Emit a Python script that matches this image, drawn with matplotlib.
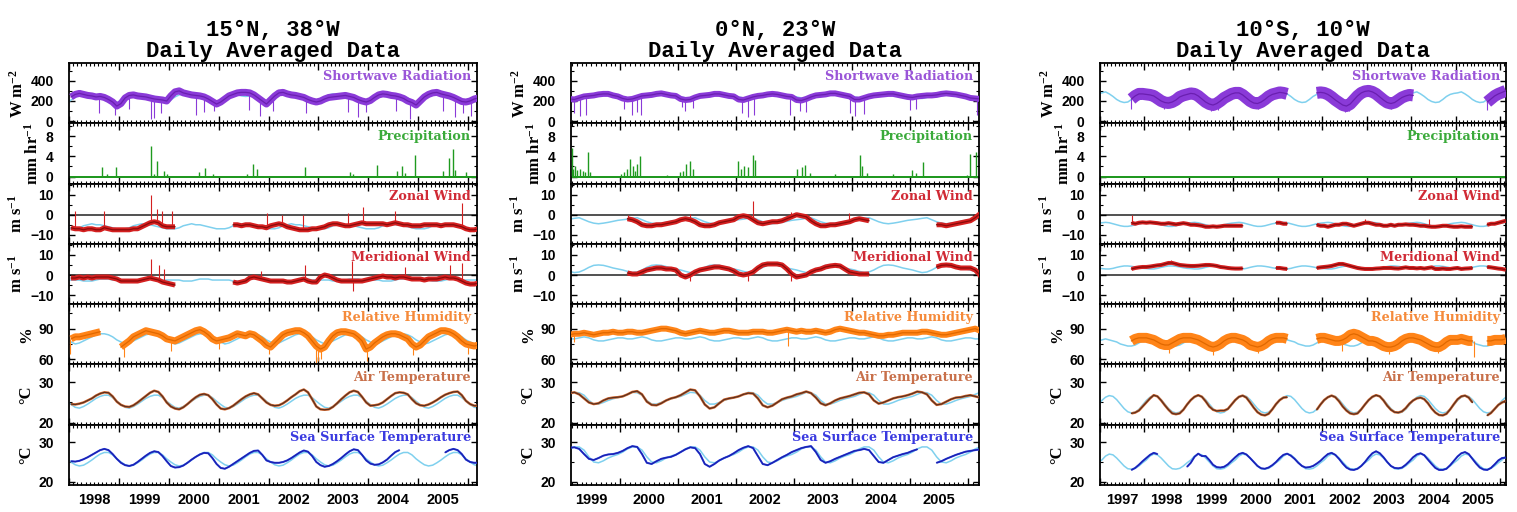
import numpy as np
import matplotlib
matplotlib.use("Agg")
import matplotlib.pyplot as plt

nan = np.nan

# =============================================================================
# Values (monthly means, NaN = no buoy data)
# cyan curves = monthly climatology, repeated every year
# =============================================================================

# ---------------- 15N, 38W : Jan 1998 .. Mar 2006 ----------------
a_title = "15°N, 38°W\nDaily Averaged Data"
a_start = 1998.0
a_xlim = (1998.0, 2006.18)
a_years = [1998, 1999, 2000, 2001, 2002, 2003, 2004, 2005]

sw_a = [240, 265, 275, 265, 255, 250, 240, 245, 235, 215, 190, 150,
        175, 230, 255, 260, 250, 245, 240, 230, 220, 215, 210, 200,
        250, 290, 300, 280, 270, 260, 255, 250, 240, 220, 195, 170,
        190, 220, 250, 265, 280, 285, 285, 280, 260, 230, 200, 170,
        210, 250, 280, 285, 270, 260, 255, 245, 235, 215, 200, 190,
        200, 220, 235, 240, 245, 250, 255, 245, 235, 215, 200, 190,
        205, 235, 260, 270, 265, 255, 250, 240, 225, 200, 185, 160,
        200, 240, 265, 280, 285, 270, 260, 250, 235, 215, 195, 190,
        200, 220, 230]
u_a = [-6.5, -7.0, -7.0, -7.5, -7.0, -7.0, -7.5, -7.5, -6.5, -7.0, -7.5, -7.5,
       -7.5, -7.5, -7.5, -7.0, -7.0, -6.0, -5.0, -4.0, -3.5, -4.0, -5.5, -6.0,
       -6.0, -6.0, nan, nan, nan, nan, nan, nan, nan, nan, nan, nan,
       nan, nan, nan, -5.0, -5.0, -5.5, -5.0, -5.0, -5.5, -6.0, -6.0, -6.5,
       -5.5, -5.0, -4.5, -5.0, -6.0, -6.5, -7.0, -7.5, -7.5, -7.5, -7.0, -7.0,
       -6.5, -6.0, -5.0, -4.5, -4.5, -5.0, -5.5, -5.5, -5.0, -4.5, -4.0, -4.5,
       -4.5, -4.5, -4.5, -4.5, -5.0, -4.5, -4.0, -4.5, -5.0, -5.0, -5.5, -5.5,
       -5.5, -5.0, -5.0, -5.0, -5.0, -5.5, -5.0, -5.0, -5.0, -5.5, -6.0, -7.0,
       -7.5, -7.5, -7.0]
v_a = [-1.5, -1.5, -1.0, -1.5, -1.0, -1.5, -1.0, -1.0, -1.0, -1.0, -1.5, -2.0,
       -3.0, -3.0, -3.0, -3.0, -3.0, -2.5, -2.0, -1.5, -2.0, -2.5, -3.5, -4.0,
       -4.5, -5.0, nan, nan, nan, nan, nan, nan, nan, nan, nan, nan,
       nan, nan, nan, -3.5, -4.0, -3.5, -3.0, -1.5, -1.0, -1.5, -2.0, -2.5,
       -3.0, -3.0, -3.0, -3.0, -3.5, -3.5, -3.0, -2.5, -2.0, -3.0, -3.5, -3.5,
       -1.0, 0.0, -0.5, -1.5, -2.5, -3.0, -3.0, -3.0, -3.0, -3.0, -3.0, -2.5,
       -2.0, -1.5, -1.0, -0.5, -1.0, -1.0, -1.5, -1.0, -1.0, -1.5, -2.0, -2.0,
       -2.0, -2.5, -2.0, -2.0, -2.0, -1.5, -1.0, -1.5, -1.5, -2.0, -3.0, -4.0,
       -4.5, -4.5, -4.0]
rh_a = [80, 82, 82, 83, 84, 85, 86, 87, nan, nan, nan, nan,
        72, 75, 78, 82, 84, 86, 88, 87, 86, 85, 83, 80,
        79, 78, 80, 82, 84, 86, 88, 89, 87, 84, 80, 78,
        79, 80, 81, 83, 85, 84, 83, 85, 84, 81, 78, 74,
        72, 76, 80, 84, 86, 87, 88, 88, 86, 83, 78, 73,
        70, 72, 78, 83, 86, 87, 87, 86, 85, 82, 78, 70,
        72, 76, 79, 82, 84, 85, 85, 84, 82, 80, 75, 72,
        74, 78, 82, 84, 86, 88, 88, 87, 85, 82, 78, 75,
        74, 73, 74]
at_a = [24.6, 24.5, 24.7, 25.0, 25.5, 26.0, 26.7, 27.2, 27.5, 27.4, 26.5, 25.2,
        24.4, 24.0, 23.9, 24.3, 25.0, 25.8, 26.6, 27.4, 27.9, 27.6, 26.5, 25.0,
        24.0, 23.5, 23.3, 23.8, 24.6, 25.5, 26.3, 26.9, 27.1, 26.8, 25.8, 24.5,
        23.5, 23.3, 23.6, 24.2, 25.0, 25.8, 26.5, 27.0, 27.3, 27.0, 26.0, 25.0,
        24.4, 24.2, 24.3, 24.8, 25.5, 26.3, 27.0, 27.8, 28.2, 27.5, 25.8, 24.0,
        23.3, 23.2, 23.3, 23.9, 24.8, 25.8, 26.7, 27.5, 27.9, 27.6, 26.4, 25.0,
        24.2, 24.3, 24.5, 25.0, 25.8, 26.6, 27.3, 27.5, 27.4, 27.0, 25.8, 24.8,
        24.3, 24.2, 24.5, 25.0, 25.6, 26.3, 26.9, 27.3, 27.6, 27.7, 26.8, 25.4,
        24.6, 24.2, 24.2]
sst_a = [25.2, 25.1, 25.3, 25.7, 26.2, 26.8, 27.4, 28.0, 28.3, 28.0, 27.0, 25.8,
         24.8, 24.2, 24.0, 24.3, 25.0, 25.8, 26.6, 27.3, 27.7, 27.5, 26.5, 25.2,
         24.0, 23.6, 23.7, 24.1, 24.8, 25.6, 26.3, 26.9, 27.3, 27.2, 26.0, 24.5,
         23.5, 23.3, 23.8, 24.5, 25.2, 25.9, 26.6, 27.3, 27.8, 27.9, 26.8, 25.4,
         25.0, 24.8, 24.8, 25.0, 25.4, 26.0, 26.7, 27.4, 27.9, 27.6, 26.5, 25.0,
         24.2, 23.8, 24.0, 24.5, 25.2, 26.0, 26.9, 27.7, 28.2, 28.0, 26.8, 25.4,
         24.6, 24.3, 24.4, 24.9, 25.6, 26.6, 27.5, 28.0, nan, nan, nan, nan,
         nan, nan, nan, nan, nan, nan, 27.4, 28.0, 28.3, 28.0, 27.0, 25.6,
         25.0, 24.8, 24.8]
pr_a_t = [1998.67, 1998.76, 1998.94, 1999.64, 1999.70, 1999.76, 1999.90, 1999.97,
          2000.60, 2000.72, 2000.88, 2001.57, 2001.69, 2001.76, 2002.74, 2003.64,
          2003.70, 2004.17, 2004.57, 2004.67, 2004.74, 2004.94, 2005.49, 2005.61,
          2005.69, 2005.74, 2005.96]
pr_a_v = [1.8, 0.5, 1.8, 6.0, 0.5, 3.0, 1.2, 0.5, 1.0, 1.7, 0.6, 0.6, 2.4, 1.5,
          1.8, 1.0, 0.6, 2.3, 1.2, 2.0, 0.8, 4.3, 1.2, 3.7, 5.5, 1.3, 1.0]

clim_a = {
    "sw": [210, 240, 260, 270, 265, 250, 245, 250, 245, 230, 200, 180],
    "u": [-7.0, -7.0, -6.5, -5.5, -5.0, -4.5, -5.0, -5.0, -5.5, -6.0, -6.5, -7.0],
    "v": [-2.5, -2.5, -2.5, -3.0, -3.0, -3.0, -2.5, -2.0, -2.0, -2.0, -2.5, -2.5],
    "rh": [77, 75, 76, 78, 80, 82, 84, 85, 85, 84, 82, 79],
    "at": [24.5, 23.8, 23.6, 24.0, 24.6, 25.3, 26.0, 26.5, 26.8, 26.8, 26.2, 25.3],
    "sst": [25.0, 24.3, 24.0, 24.2, 24.8, 25.5, 26.3, 27.0, 27.4, 27.4, 26.8, 25.8],
}

# ---------------- 0N, 23W : Feb 1999 .. Mar 2006 ----------------
b_title = "0°N, 23°W\nDaily Averaged Data"
b_start = 1999.0 + 1 / 12
b_xlim = (1999.15, 2006.19)
b_years = [1999, 2000, 2001, 2002, 2003, 2004, 2005]

sw_b = [220, 215, 230, 245, 250, 255, 265, 270, 270, 255, 245,
        225, 215, 220, 235, 250, 255, 260, 270, 275, 265, 255, 250,
        220, 210, 215, 235, 250, 255, 260, 270, 270, 260, 250, 245,
        215, 210, 225, 240, 250, 255, 265, 270, 265, 255, 245, 240,
        210, 205, 220, 240, 255, 260, 265, 275, 275, 265, 255, 245,
        215, 215, 230, 245, 255, 260, 265, 270, 270, 260, 250, 240,
        235, 245, 250, 255, 255, 260, 270, 275, 270, 265, 255, 245,
        230, 225, 220]
u_b = [nan, nan, nan, nan, nan, nan, nan, nan, nan, nan, nan,
       nan, -2.0, -2.5, -3.5, -5.0, -5.5, -5.5, -5.0, -5.0, -4.5, -4.0, -3.5,
       -2.5, -2.0, -2.5, -3.5, -5.0, -5.5, -5.5, -5.0, -4.0, -3.5, -3.0, -2.5,
       -1.0, -0.5, -1.0, -2.5, -4.0, -4.5, -4.0, -3.5, -3.5, -3.0, -2.0, -1.0,
       0.0, -0.5, -1.0, -3.0, -4.5, -5.5, -5.5, -5.0, -5.0, -4.5, -4.0, -3.5,
       -2.5, -2.0, -2.5, -3.0, nan, nan, nan, nan, nan, nan, nan, nan,
       nan, nan, nan, nan, nan, -5.0, -5.0, -5.5, -5.0, -4.5, -4.0, -3.5,
       -3.0, -1.5, 0.5]
v_b = [nan, nan, nan, nan, nan, nan, nan, nan, nan, nan, nan,
       nan, 1.0, 0.5, 0.5, 1.5, 2.5, 3.0, 3.5, 3.5, 3.0, 3.0, 2.5,
       0.0, -1.0, 0.0, 1.5, 2.5, 3.0, 3.5, 4.0, 4.0, 3.5, 3.0, 2.0,
       0.5, 0.0, 0.5, 1.5, 3.5, 5.0, 5.5, 5.5, 5.5, 5.0, 3.0, 0.5,
       -1.0, -0.5, 0.0, 1.5, 2.5, 3.0, 4.0, 4.5, 4.8, 4.5, 3.0, 1.5,
       1.0, 0.5, 0.5, 0.5, nan, nan, nan, nan, nan, nan, nan, nan,
       nan, nan, nan, nan, nan, 4.0, 4.8, 5.0, 4.8, 4.0, 3.5, 3.5,
       3.5, 2.5, 0.0]
rh_b = [84, 85, 85, 86, 85, 84, 85, 86, 86, 87, 86,
        86, 87, 87, 86, 86, 87, 88, 89, 90, 90, 89, 88,
        86, 85, 86, 87, 88, 87, 86, 86, 87, 88, 88, 87,
        86, 86, 86, 87, 87, 87, 86, 86, 87, 88, 89, 88,
        87, 88, 87, 87, 88, 87, 86, 87, 89, 90, 89, 88,
        87, 86, 86, 85, 84, 83, 83, 84, 84, 85, 86, 86,
        86, 86, 87, 87, 86, 85, 84, 84, 85, 86, 87, 88,
        89, 90, 88]
at_b = [27.3, 27.5, 27.0, 26.0, 25.0, 24.6, 24.8, 25.5, 26.0, 26.2, 26.3,
        26.5, 27.0, 27.6, 27.8, 27.0, 25.2, 24.4, 24.3, 24.8, 25.5, 26.0, 26.3,
        26.8, 27.5, 28.2, 28.0, 26.5, 24.5, 23.5, 23.8, 24.8, 25.7, 26.0, 26.2,
        26.5, 27.0, 27.3, 27.2, 26.0, 24.3, 23.8, 24.2, 25.0, 25.8, 26.2, 26.5,
        27.0, 27.3, 27.7, 27.3, 26.2, 24.8, 24.3, 24.8, 25.5, 26.0, 26.3, 26.6,
        27.0, 27.4, 27.5, 27.0, 25.5, 24.7, 25.0, 25.5, 26.0, 26.3, 26.5, 26.8,
        27.2, 27.7, 27.5, 27.0, 25.5, 24.4, 24.6, 25.2, 25.8, 26.2, 26.3, 26.6,
        26.8, 26.5, 26.2]
sst_b = [28.6, 28.7, 28.3, 27.0, 25.8, 25.5, 26.0, 26.6, 26.9, 27.0, 27.3,
         27.8, 28.5, 29.0, 28.8, 27.0, 24.8, 24.5, 25.2, 25.8, 26.1, 26.3, 26.8,
         27.5, 28.2, 28.7, 28.5, 27.0, 24.5, 23.8, 24.5, 25.4, 26.0, 26.5, 27.2,
         28.0, 28.6, 29.0, 28.5, 26.5, 24.5, 24.2, 24.8, 25.5, 26.2, 26.8, 27.5,
         28.0, 28.5, 28.8, 29.0, 27.5, 25.5, 24.8, 25.2, 25.8, 26.3, 26.8, 27.3,
         27.8, 28.0, 28.3, 28.0, 26.5, 25.0, 24.8, 25.5, 26.2, 26.6, 27.0, 27.3,
         27.8, 28.2, nan, nan, nan, 24.8, 25.2, 25.8, 26.3, 26.8, 27.2, 27.6,
         27.8, 28.0, 28.2]
pr_b_t = [1999.16, 1999.19, 1999.22, 1999.26, 1999.31, 1999.35, 1999.40, 1999.44,
          1999.48, 2000.01, 2000.06, 2000.11, 2000.17, 2000.22, 2000.26, 2000.29,
          2000.34, 2000.80, 2001.03, 2001.09, 2001.14, 2001.20, 2001.26, 2002.04,
          2002.09, 2002.13, 2002.21, 2002.29, 2002.33, 2003.05, 2003.13, 2003.19,
          2003.28, 2003.71, 2004.14, 2004.17, 2004.25, 2004.71, 2005.03, 2005.11,
          2005.23, 2005.98, 2006.03, 2006.14]
pr_b_v = [5.6, 1.5, 2.0, 1.3, 1.5, 1.2, 1.0, 4.8, 1.0, 0.5, 1.0, 1.5, 3.5, 2.0,
          1.2, 2.5, 4.1, 0.4, 1.0, 1.2, 2.5, 3.0, 1.5, 3.0, 1.5, 2.0, 1.8, 4.3,
          3.3, 1.5, 1.8, 2.3, 0.8, 0.5, 4.2, 2.0, 0.8, 0.5, 1.3, 0.8, 2.8, 0.3,
          4.5, 4.8]

clim_b = {
    "sw": [240, 230, 225, 235, 245, 245, 250, 265, 270, 270, 255, 250],
    "u": [-2.5, -2.2, -1.8, -1.5, -2.5, -3.5, -4.2, -4.5, -4.2, -3.8, -3.3, -2.8],
    "v": [2.5, 1.8, 1.2, 1.5, 2.5, 3.8, 4.8, 5.0, 4.8, 4.2, 3.5, 3.0],
    "rh": [81, 80, 80, 81, 82, 81, 79, 78, 78, 79, 80, 81],
    "at": [26.5, 27.0, 27.5, 27.4, 26.8, 25.5, 24.6, 24.6, 25.0, 25.5, 25.9, 26.2],
    "sst": [27.5, 28.3, 28.8, 28.8, 28.0, 26.3, 25.0, 24.8, 25.3, 26.0, 26.5, 26.9],
}

# ---------------- 10S, 10W : Jan 1997 .. Feb 2006 ----------------
c_title = "10°S, 10°W\nDaily Averaged Data"
c_start = 1997.0
c_xlim = (1997.0, 2006.13)
c_years = [1997, 1998, 1999, 2000, 2001, 2002, 2003, 2004, 2005]

sw_c = [nan, nan, nan, nan, nan, nan, nan, nan, 220, 250, 270, 270,
        265, 260, 250, 225, 200, 185, 180, 190, 210, 240, 255, 265,
        275, 270, 250, 220, 190, 170, 160, 175, 200, 230, 250, 270,
        280, 280, 260, 230, 200, 180, 175, 190, 215, 245, 265, 275,
        285, 280, 270, nan, nan, nan, nan, nan, nan, nan, 280, 285,
        280, 265, 240, 210, 185, 160, 150, 170, 210, 250, 280, 295,
        300, 290, 270, 240, 210, 185, 175, 185, 210, 235, 250, 260,
        255, nan, nan, nan, nan, nan, nan, nan, nan, nan, nan, nan,
        nan, nan, nan, nan, nan, nan, nan, nan, 190, 220, 250, 270,
        285, 300]
u_c = [nan, nan, nan, nan, nan, nan, nan, nan, -4.0, -4.5, -4.0, -3.8,
       -4.0, -3.8, -4.0, -4.2, -4.5, -4.5, -4.2, -4.5, -4.8, -4.5, -4.2, -4.5,
       -5.0, -5.0, -5.2, -5.5, -6.0, -6.0, -5.8, -6.0, -5.8, -5.5, -5.5, -5.5,
       -5.5, -5.5, -5.5, nan, nan, nan, nan, nan, nan, nan, nan, -4.0,
       -4.0, -4.5, -4.5, nan, nan, nan, nan, nan, nan, nan, -5.0, -5.5,
       -5.5, -6.0, -5.5, -5.0, -5.0, -4.5, -4.5, -5.0, -5.5, -5.0, -4.5, -4.0,
       -4.0, -4.5, -5.0, -5.0, -5.5, -5.5, -5.0, -5.5, -5.0, -5.0, -4.8, -5.0,
       -5.0, -5.2, -5.5, -5.5, -5.8, -6.0, -6.0, -5.8, -5.5, -5.5, -5.8, -6.0,
       -6.0, -5.8, -6.0, -6.0, -6.0, nan, nan, nan, -5.0, -4.5, -4.5, -4.0,
       -3.5, -3.0]
v_c = [nan, nan, nan, nan, nan, nan, nan, nan, 3.0, 3.5, 3.8, 4.0,
       4.0, 4.2, 4.5, 4.8, 5.0, 5.5, 6.0, 6.0, 5.5, 5.0, 4.8, 4.6,
       4.5, 4.5, 4.6, 4.8, 5.0, 5.0, 4.8, 4.5, 4.0, 3.8, 3.5, 3.3,
       3.2, 3.2, 3.3, nan, nan, nan, nan, nan, nan, nan, nan, 3.5,
       3.5, 3.2, 3.0, nan, nan, nan, nan, nan, nan, nan, 3.5, 3.8,
       4.0, 4.2, 4.5, 5.0, 5.5, 5.5, 5.0, 4.5, 4.0, 3.5, 3.2, 3.0,
       3.0, 3.0, 3.2, 3.3, 3.5, 3.5, 3.5, 3.3, 3.2, 3.5, 3.8, 3.5,
       3.5, 3.3, 3.5, 3.2, 3.5, 3.8, 3.0, 3.0, 3.2, 3.0, 3.0, 3.3,
       3.5, 3.0, 3.2, 3.3, 3.5, nan, nan, nan, 4.0, 3.8, 3.5, 3.2,
       3.0, 2.6]
rh_c = [nan, nan, nan, nan, nan, nan, nan, nan, 78, 80, 81, 81,
        81, 80, 79, 77, 75, 74, 74, 76, 78, 80, 81, 81,
        81, 80, 79, 77, 75, 73, 72, 73, 75, 78, 80, 81,
        81, 80, 79, 77, 74, 73, 72, 73, 75, 78, 80, 81,
        81, 81, 80, nan, nan, nan, nan, nan, nan, nan, 80, 81,
        81, 80, 79, 78, 78, 79, 81, 84, 85, 84, 82, 80,
        78, 78, 77, 75, 73, 72, 72, 73, 75, 78, 80, 81,
        81, 80, 79, 77, 75, 73, 72, 72, 74, 77, 79, 79,
        79, 80, 79, 78, 78, nan, nan, nan, 78, 78, 79, 79,
        79, 80]
at_c = [nan, nan, nan, nan, nan, nan, nan, nan, 22.3, 22.5, 23.0, 24.0,
        25.0, 26.0, 26.8, 26.5, 25.5, 24.3, 23.2, 22.3, 22.1, 22.3, 23.2, 24.5,
        25.6, 26.4, 26.8, 26.4, 25.3, 24.0, 23.2, 22.9, 23.0, 23.0, 23.4, 24.5,
        25.6, 26.4, 26.7, 26.2, 25.0, 23.7, 22.6, 22.0, 21.8, 22.2, 23.3, 24.6,
        25.6, 26.2, 26.3, nan, nan, nan, nan, nan, nan, nan, 23.2, 24.5,
        25.6, 26.3, 26.7, 26.3, 25.3, 24.0, 23.0, 22.3, 22.1, 22.3, 23.3, 24.5,
        25.6, 26.4, 26.8, 26.5, 25.5, 24.2, 23.2, 22.6, 22.5, 22.8, 23.6, 24.7,
        25.5, 26.0, 26.2, 25.8, 24.8, 23.5, 22.5, 21.9, 21.8, 22.2, 23.3, 24.6,
        25.8, 26.5, 26.7, 26.2, 25.0, nan, nan, nan, 21.8, 22.4, 23.4, 24.4,
        25.0, 25.4]
sst_c = [nan, nan, nan, nan, nan, nan, nan, nan, 23.0, 23.5, 24.3, 25.2,
         26.0, 26.8, 27.3, 27.0, nan, nan, nan, nan, nan, nan, nan, 23.8,
         24.8, 26.3, 27.1, 26.5, 26.5, 25.5, 24.3, 23.7, 23.6, 23.8, 24.4, 25.3,
         26.2, 27.0, 27.3, 26.9, 26.0, 25.0, 24.0, 23.4, 23.3, 23.6, 24.2, 25.0,
         26.0, 26.8, 27.1, 26.6, 25.8, 24.8, 24.0, 23.6, 23.7, 24.0, 24.6, 25.3,
         26.2, 27.0, 27.3, 26.8, 25.8, 24.6, 23.6, 23.1, 23.0, 23.3, 24.0, 25.0,
         26.2, 27.2, 27.7, 27.2, 26.2, 25.0, 24.0, 23.5, 23.4, 23.6, 24.3, 25.2,
         26.2, 26.9, 27.2, 26.7, 25.6, 24.5, 23.5, 23.0, 23.0, 23.3, 24.2, 25.3,
         26.4, 27.2, 27.5, 27.0, 25.8, 24.6, 23.6, 23.1, 23.0, 23.5, 24.4, 25.4,
         26.0, 26.1]
pr_c_t = [1998.60, 2000.40, 2001.95, 2003.30]
pr_c_v = [0.1, 0.15, 0.1, 0.15]

clim_c = {
    "sw": [280, 290, 270, 245, 215, 195, 185, 190, 215, 245, 265, 275],
    "u": [-4.0, -3.8, -4.0, -4.5, -5.0, -5.5, -5.8, -5.8, -5.5, -5.0, -4.5, -4.2],
    "v": [3.2, 3.0, 3.0, 3.3, 3.8, 4.2, 4.5, 4.5, 4.3, 4.0, 3.6, 3.3],
    "rh": [79, 80, 79, 78, 77, 75, 74, 73, 73, 74, 76, 78],
    "at": [25.5, 26.3, 26.7, 26.5, 25.7, 24.6, 23.5, 22.7, 22.4, 22.6, 23.3, 24.4],
    "sst": [25.5, 26.5, 27.0, 26.8, 26.0, 25.0, 24.0, 23.3, 23.2, 23.4, 24.0, 24.8],
}

# daily excursions standing out of the band (time, value)
sw_a_dip_t = [1998.60, 1998.93, 1999.20, 1999.64, 1999.70, 1999.85, 2000.55, 2000.70,
              2000.90, 2001.60, 2001.83, 2002.10, 2002.75, 2003.60, 2003.80, 2003.95,
              2004.55, 2004.83, 2005.50, 2005.73, 2005.90, 2006.05]
sw_a_dip_v = [80, 60, 120, 20, 30, 80, 60, 90, 100, 110, 50, 100, 80, 90, 40, 90,
              100, 20, 100, 40, 80, 50]
sw_b_dip_t = [1999.21, 1999.30, 1999.41, 2000.06, 2000.20, 2000.29, 2000.35, 2001.06,
              2001.12, 2001.25, 2002.10, 2002.21, 2002.30, 2002.93, 2003.10, 2003.20,
              2003.97, 2004.05, 2004.20, 2005.00, 2005.11, 2006.15]
sw_b_dip_v = [80, 50, 60, 120, 60, 90, 60, 140, 100, 130, 80, 40, 60, 60, 100, 90,
              80, 50, 70, 110, 120, 60]
sw_c_dip_t = [1997.70, 1998.45, 1999.50, 1999.65, 2000.55, 2002.50, 2002.60, 2003.55, 2005.70]
sw_c_dip_v = [120, 120, 100, 110, 120, 90, 100, 120, 110]

u_a_sp_t = [1998.12, 1998.70, 1999.64, 1999.77, 1999.87, 2000.07, 2001.97, 2002.27,
            2002.70, 2003.60, 2003.90, 2004.54, 2005.87]
u_a_sp_v = [2, 2, 10, 3, 2, 2, 1, 0, 0, 1, 4, 2, 6]
v_a_sp_t = [1999.64, 1999.80, 1999.90, 2001.84, 2002.74, 2003.67, 2003.70, 2004.74,
            2005.63, 2005.87]
v_a_sp_v = [8, 5, 3, 2, 5, 7, -8, 4, 5, 6]
u_b_sp_t = [2000.14, 2001.20, 2002.29, 2002.95, 2003.95, 2006.17]
u_b_sp_v = [0, 0.5, 7, 1.5, 1, 1]
v_b_sp_t = [2001.20, 2002.20, 2002.95, 2006.17]
v_b_sp_v = [-3, -3, -3, -1]
u_c_sp_t = [1997.72, 2002.95, 2004.40]
u_c_sp_v = [0, -2, -2]
v_c_sp_t = [1998.60]
v_c_sp_v = [7.5]

rh_a_dip_t = [1998.03, 1999.10, 2000.05, 2001.00, 2002.00, 2002.95, 2003.00, 2003.05,
              2003.97, 2004.90, 2006.00]
rh_a_dip_v = [65, 62, 68, 70, 65, 55, 58, 60, 58, 64, 65]
rh_b_dip_t = [1999.20, 2002.90]
rh_b_dip_v = [77, 73]
rh_c_dip_t = [1998.55, 1999.55, 2000.55, 2002.45, 2003.50, 2004.60, 2005.40]
rh_c_dip_v = [66, 64, 66, 68, 65, 66, 62]

# =============================================================================
# panel styles
# =============================================================================
rows = ["sw", "pr", "u", "v", "rh", "at", "sst"]
panel = {
    "sw": dict(name="Shortwave Radiation", unit=r"W m$^{-2}$", ylim=(-20, 575),
               major=[0, 200, 400], minor=[100, 300, 500],
               color="#8a3ad8", core="#6a1fb0", text="#9a55d8"),
    "pr": dict(name="Precipitation", unit=r"mm hr$^{-1}$", ylim=(-1.4, 10.6),
               major=[0, 4, 8], minor=[2, 6, 10],
               color="#1f9a1f", core="#1f9a1f", text="#3aaa3a"),
    "u": dict(name="Zonal Wind", unit=r"m s$^{-1}$", ylim=(-14.5, 15.5),
              major=[-10, 0, 10], minor=[-5, 5, 15],
              color="#d42020", core="#8a0a0a", text="#d02a35"),
    "v": dict(name="Meridional Wind", unit=r"m s$^{-1}$", ylim=(-14.5, 15.5),
              major=[-10, 0, 10], minor=[-5, 5, 15],
              color="#d42020", core="#8a0a0a", text="#d02a35"),
    "rh": dict(name="Relative Humidity", unit="%", ylim=(55, 114),
               major=[60, 90], minor=[75, 105],
               color="#ff8418", core="#e06800", text="#f58a3a"),
    "at": dict(name="Air Temperature", unit="°C", ylim=(19.5, 34.4),
               major=[20, 30], minor=[25],
               color="#d86a30", core="#5a3020", text="#c8704a"),
    "sst": dict(name="Sea Surface Temperature", unit="°C", ylim=(19.2, 34.4),
                major=[20, 30], minor=[25],
                color="#3048e0", core="#1a20b0", text="#3a3ae0"),
}
clim_color = "#7fd0ee"

stations = [
    dict(title=a_title, start=a_start, xlim=a_xlim, years=a_years, clim=clim_a,
         data={"sw": sw_a, "u": u_a, "v": v_a, "rh": rh_a, "at": at_a, "sst": sst_a},
         pr=(pr_a_t, pr_a_v),
         spikes={"sw": (sw_a_dip_t, sw_a_dip_v), "u": (u_a_sp_t, u_a_sp_v),
                 "v": (v_a_sp_t, v_a_sp_v), "rh": (rh_a_dip_t, rh_a_dip_v)},
         band={"sw": 7, "u": 5, "v": 5, "rh": 7, "at": 2.5, "sst": 2}),
    dict(title=b_title, start=b_start, xlim=b_xlim, years=b_years, clim=clim_b,
         data={"sw": sw_b, "u": u_b, "v": v_b, "rh": rh_b, "at": at_b, "sst": sst_b},
         pr=(pr_b_t, pr_b_v),
         spikes={"sw": (sw_b_dip_t, sw_b_dip_v), "u": (u_b_sp_t, u_b_sp_v),
                 "v": (v_b_sp_t, v_b_sp_v), "rh": (rh_b_dip_t, rh_b_dip_v)},
         band={"sw": 6, "u": 5, "v": 5, "rh": 6, "at": 2.5, "sst": 2}),
    dict(title=c_title, start=c_start, xlim=c_xlim, years=c_years, clim=clim_c,
         data={"sw": sw_c, "u": u_c, "v": v_c, "rh": rh_c, "at": at_c, "sst": sst_c},
         pr=(pr_c_t, pr_c_v),
         spikes={"sw": (sw_c_dip_t, sw_c_dip_v), "u": (u_c_sp_t, u_c_sp_v),
                 "v": (v_c_sp_t, v_c_sp_v), "rh": (rh_c_dip_t, rh_c_dip_v)},
         band={"sw": 12, "u": 4, "v": 4, "rh": 10, "at": 2.5, "sst": 2}),
]

# axes geometry (figure pixels 1517 x 512)
W, H = 1517, 512
col_x = [(69, 477), (571, 979), (1100, 1506)]
top_px, bot_px = 63, 485
row_px = (bot_px - top_px) / 7.0

plt.rcParams["font.family"] = "Liberation Sans"
plt.rcParams["font.weight"] = "bold"
plt.rcParams["mathtext.fontset"] = "custom"
plt.rcParams["mathtext.rm"] = "Liberation Serif:bold"
plt.rcParams["mathtext.default"] = "rm"

fig = plt.figure(figsize=(W / 100, H / 100), dpi=100)


def px_lw(px):
    return px * 72.0 / 100.0


for c, st in enumerate(stations):
    x0, x1 = col_x[c]
    lo, hi = st["xlim"]
    y_first = int(np.floor(lo)) - 1
    y_last = int(np.ceil(hi)) + 1
    n_years = y_last - y_first

    for r, key in enumerate(rows):
        p = panel[key]
        y_top = top_px + r * row_px
        ax = fig.add_axes([x0 / W, 1 - (y_top + row_px) / H, (x1 - x0) / W, row_px / H])

        if key in ("pr", "u", "v"):
            ax.axhline(0, color="#333333", lw=1.2, zorder=1)

        if key == "pr":
            ax.axhline(0, color=p["color"], lw=1.4, zorder=2)
            pt, pv = st["pr"]
            ax.vlines(pt, 0, pv, color=p["color"], lw=1.0, zorder=3)
        else:
            clim = st["clim"][key]
            ct = y_first + (np.arange(n_years * 12) + 0.5) / 12.0
            ax.plot(ct, np.tile(clim, n_years), color=clim_color, lw=1.1, zorder=2)

            vals = np.array(st["data"][key], dtype=float)
            t = st["start"] + (np.arange(len(vals)) + 0.5) / 12.0
            ax.plot(t, vals, color=p["color"], lw=px_lw(st["band"][key]),
                    solid_joinstyle="round", solid_capstyle="butt", zorder=3)
            ax.plot(t, vals, color=p["core"], lw=0.9, zorder=4)

            if key in st["spikes"]:
                sp_t, sp_v = st["spikes"][key]
                sp_t = np.array(sp_t)
                idx = np.clip(np.round((sp_t - st["start"]) * 12 - 0.5).astype(int),
                              0, len(vals) - 1)
                base = vals[idx]
                ok = ~np.isnan(base)
                ax.vlines(sp_t[ok], base[ok], np.array(sp_v, float)[ok],
                          color=p["color"], lw=0.8, zorder=3)

        ax.set_xticks(np.arange(int(np.floor(lo)), int(np.ceil(hi)) + 1))
        ax.set_xticks(np.arange(int(np.floor(lo)) * 12, int(np.ceil(hi)) * 12 + 1) / 12.0,
                      minor=True)
        ax.set_yticks(p["major"])
        ax.set_yticks(p["minor"], minor=True)
        ax.set_xlim(lo, hi)
        ax.set_ylim(*p["ylim"])

        ax.tick_params(axis="x", which="major", direction="in", length=5, width=1.0,
                       top=True, bottom=True, labelbottom=False)
        ax.tick_params(axis="x", which="minor", direction="in", length=2.5, width=0.8,
                       top=True, bottom=True)
        ax.tick_params(axis="y", which="major", direction="in", length=4, width=1.0,
                       left=True, right=True, labelsize=10, pad=11)
        ax.tick_params(axis="y", which="minor", direction="in", length=2.5, width=0.8,
                       left=True, right=True)
        for s in ax.spines.values():
            s.set_linewidth(1.3)

        ax.set_ylabel(p["unit"], fontsize=12, labelpad=3,
                      fontfamily="Liberation Serif", fontweight="bold")
        ax.text(0.985, 0.78, p["name"], transform=ax.transAxes, ha="right", va="center",
                color=p["text"], fontsize=9.2, fontfamily="DejaVu Serif",
                fontweight="bold")

        if r == 0:
            ax.set_title(st["title"], fontsize=16, fontfamily="Liberation Mono",
                         fontweight="bold", pad=4, linespacing=1.05)
        if r == len(rows) - 1:
            for yr in st["years"]:
                ax.text(yr + 0.5, -0.25, str(yr), transform=ax.get_xaxis_transform(),
                        ha="center", va="center", fontsize=10.5, fontweight="bold")

fig.savefig("out.png", dpi=100)
